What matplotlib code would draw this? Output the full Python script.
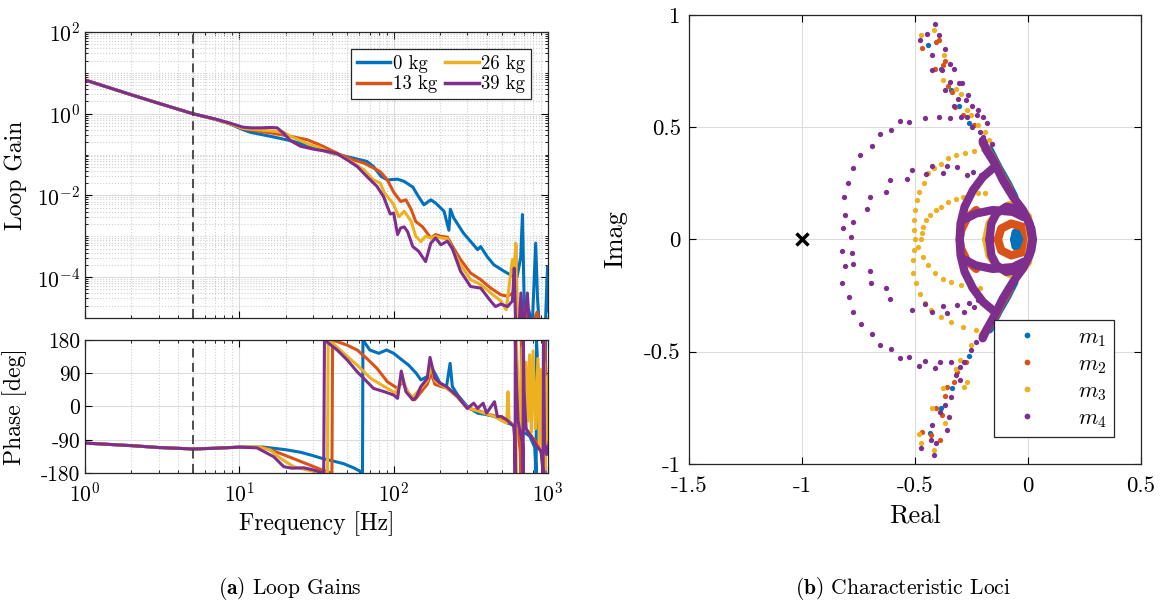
import matplotlib
matplotlib.use("Agg")
import matplotlib.pyplot as plt
from matplotlib.ticker import LogLocator, NullFormatter, FixedLocator

plt.rcParams['font.family'] = 'serif'
plt.rcParams['font.serif'] = ['cmr10', 'DejaVu Serif']
plt.rcParams['mathtext.fontset'] = 'cm'
plt.rcParams['axes.unicode_minus'] = False
plt.rcParams['axes.formatter.use_mathtext'] = True

BLUE = '#0072BD'
ORANGE = '#D95319'
YELLOW = '#EDB120'
PURPLE = '#7E2F8E'
COLORS = [BLUE, ORANGE, YELLOW, PURPLE]

# ---------------- loop gain magnitude ----------------
labels_mass = ['0 kg', '13 kg', '26 kg', '39 kg']

f_0kg = [1, 2, 3, 5, 7, 8.7, 10.5, 11.8, 15.9, 21.4, 28.9, 38.9, 50, 61, 67,
         74, 83, 91, 106, 117, 133, 145, 157, 174, 187, 212, 228, 233, 245,
         283, 350, 366, 403, 446, 518, 588, 630, 665, 683, 705, 750, 790, 832,
         855, 880, 960, 993, 1000]
g_0kg = [6.7, 2.9, 1.8, 1.0, 0.73, 0.56, 0.41, 0.35, 0.28, 0.22, 0.16, 0.11,
         0.089, 0.074, 0.068, 0.051, 0.029, 0.024, 0.025, 0.022, 0.016, 0.0093,
         0.0059, 0.0078, 0.0065, 0.0041, 0.0014, 0.0046, 0.0028, 0.0012,
         4.7e-4, 5.6e-4, 3.2e-4, 2.0e-4, 1.4e-4, 1.07e-4, 1.0e-4, 3e-4, 3.4e-3,
         8e-6, 1.6e-5, 6e-6, 6.8e-4, 3e-5, 6e-6, 6e-6, 1.8e-4, 1.5e-5]

f_13kg = [1, 2, 3, 5, 7, 8.7, 10.5, 11.8, 15.9, 21.4, 27.6, 33.5, 38.9, 45, 55,
          64, 74, 82, 91, 100, 111, 120, 130, 139, 154, 174, 187, 202, 223,
          241, 271, 315, 366, 425, 495, 546, 588, 605, 618, 632, 660, 720, 760,
          850, 900, 1000]
g_13kg = [6.7, 2.9, 1.8, 1.0, 0.73, 0.57, 0.43, 0.40, 0.34, 0.28, 0.23, 0.17,
          0.13, 0.10, 0.074, 0.062, 0.047, 0.038, 0.024, 0.012, 0.0071, 0.0078,
          0.0045, 0.0023, 0.0017, 9.1e-4, 1.1e-3, 1.0e-3, 9.5e-4, 5.6e-4,
          2.7e-4, 1.26e-4, 8.7e-5, 5.4e-5, 3.7e-5, 3.4e-5, 4.0e-5, 4.2e-5,
          6.2e-4, 1.2e-5, 5e-6, 2e-5, 5e-6, 1.4e-5, 5e-6, 8e-6]

f_26kg = [1, 2, 3, 5, 7, 8.7, 10.5, 11.8, 15.9, 19.4, 21.4, 24.9, 28, 33, 38.9,
          45, 52.6, 64, 74, 82, 87, 95, 100, 108, 117, 130, 139, 150, 161, 174,
          187, 202, 223, 241, 271, 315, 366, 425, 495, 535, 560, 588, 605, 618,
          628, 660, 700, 800, 1000]
g_26kg = [6.7, 2.9, 1.8, 1.0, 0.73, 0.57, 0.44, 0.42, 0.38, 0.35, 0.28, 0.22,
          0.18, 0.15, 0.11, 0.095, 0.068, 0.043, 0.024, 0.020, 0.0115, 0.0078,
          0.0059, 0.0030, 0.0041, 0.0023, 0.0010, 7.4e-4, 1.0e-3, 9.1e-4,
          1.0e-3, 9.1e-4, 8.7e-4, 4.7e-4, 2.0e-4, 8.7e-5, 6.6e-5, 4.1e-5,
          2.6e-5, 1.6e-5, 6e-5, 2.7e-4, 1.5e-4, 6.8e-4, 8e-6, 6e-6, 1e-5,
          6e-6, 6e-6]

f_39kg = [1, 2, 3, 5, 7, 8.7, 10.5, 12, 13.7, 15.9, 17.6, 19.4, 21.4, 24.9,
          30.4, 37, 43, 50, 58, 67, 78, 86, 95, 100, 106, 111, 117, 123, 133,
          145, 161, 174, 187, 202, 223, 240, 271, 315, 366, 425, 457, 495, 546,
          588, 604, 618, 650, 668, 690, 735, 760, 1000]
g_39kg = [6.7, 2.9, 1.8, 1.0, 0.74, 0.59, 0.47, 0.45, 0.45, 0.46, 0.45, 0.33,
          0.22, 0.16, 0.135, 0.12, 0.105, 0.074, 0.051, 0.029, 0.0166, 0.0093,
          0.0035, 0.0037, 0.0011, 0.0016, 0.0017, 0.0013, 5.6e-4, 4.3e-4,
          2.4e-4, 6.8e-4, 9.1e-4, 6.2e-4, 7.6e-4, 5e-4, 1.4e-4, 5.9e-5, 5.4e-5,
          2.6e-5, 1.9e-5, 2.2e-5, 1.9e-5, 2.6e-5, 1.66e-4, 5e-6, 6e-6, 4.1e-5,
          5e-6, 4.1e-5, 5e-6, 5e-6]

# ---------------- loop gain phase ----------------
pf_0kg = [1, 2, 3, 5, 7, 10, 14.4, 20, 25, 30, 34, 40, 47.5, 55, 61, 62.8,
          63.2, 70, 80, 90, 100, 110, 125, 140, 150, 165, 180, 200, 220, 232,
          240, 260, 300, 350, 400, 450, 500, 550, 600, 650, 700, 760, 820, 838,
          842, 860, 900, 940, 955, 960, 980, 1000]
p_0kg = [-99, -106, -111, -115, -113, -110, -110, -117, -124, -133, -140, -147,
         -155, -166, -176, -180, 180, 153, 144, 153, 144, 130, 112, 90, 72, 81,
         99, 63, 54, 117, 54, 31, 0, -18, -22, -27, -36, -45, -50, -55, -70,
         -80, -110, -180, 180, 100, -60, -150, -180, 180, -120, 40]

pf_13kg = [1, 2, 3, 5, 7, 10, 14.4, 18.4, 23.7, 30.4, 37, 39.8, 40.2, 50, 58,
           67, 78, 91, 106, 114, 125, 137, 157, 165, 175, 185, 200, 220, 240,
           260, 300, 350, 400, 450, 500, 550, 600, 640, 660, 668, 672, 690,
           720, 780, 850, 920, 945, 950, 1000]
p_13kg = [-99, -106, -111, -115, -113, -110, -111, -127, -145, -163, -177,
          -180, 180, 166, 153, 130, 103, 67, 49, 67, 35, 18, 49, 60, 90, 60,
          55, 50, 38, 25, -5, -10, -20, -25, -35, -40, -50, -70, -120, -180,
          180, 60, -60, -80, -100, -130, -180, 180, -100]

pf_26kg = [1, 2, 3, 5, 7, 10, 13, 15.9, 18.4, 22.5, 27.6, 31.9, 37.2, 37.6,
           38.9, 47.5, 58, 71, 87, 103, 114, 122, 133, 150, 165, 175, 185, 200,
           220, 240, 260, 300, 350, 400, 450, 500, 540, 550, 560, 600, 615,
           620, 622, 640, 660, 680, 700, 720, 740, 760, 780, 800, 830, 860,
           880, 900, 920, 940, 960, 980, 1000]
p_26kg = [-99, -106, -111, -115, -113, -110, -109, -118, -140, -163, -172,
          -177, -180, 180, 177, 144, 112, 76, 54, 36, 76, 40, 25, 50, 70, 110,
          70, 60, 50, 38, 25, -3, -12, -20, -27, -38, -45, 40, -40, -50, -100,
          -180, 180, 60, -60, 160, -20, 120, -40, 140, -70, 150, -60, 130,
          -100, 100, -150, 120, -170, 80, -90]

pf_39kg = [1, 2, 3, 5, 7, 10, 13, 16.7, 19.4, 21.9, 26.2, 30.4, 35.2, 35.6,
           43, 50, 58, 64, 74, 87, 100, 106, 112, 120, 133, 140, 150, 165, 172,
           185, 200, 220, 240, 260, 300, 330, 350, 380, 400, 450, 470, 500,
           540, 600, 608, 612, 614, 625, 640, 660, 685, 690, 692, 700, 720,
           760, 800, 850, 900, 930, 935, 950, 980, 1000]
p_39kg = [-99, -106, -111, -115, -113, -110, -112, -136, -163, -167, -166,
          -172, -180, 180, 153, 126, 94, 76, 49, 40, 31, 22, 96, 40, 18, 25,
          54, 76, 133, 76, 63, 54, 40, 27, -5, 9, -5, 9, -18, 13, -27, -27,
          -36, -54, -90, -180, 180, 60, -40, -70, -100, -180, 180, 40, -60,
          -75, -90, -110, -120, -180, 180, -100, -130, -110]

mag_ticks = [1e-4, 1e-2, 1e0, 1e2]
phase_ticks = [-180, -90, 0, 90, 180]
phase_ticklabels = ['-180', '-90', '0', '90', '180']
freq_ticks = [1, 10, 100, 1000]
f_crossover = 5

# ---------------- characteristic loci (re, im) ----------------
loci_labels = [r'$m_1$', r'$m_2$', r'$m_3$', r'$m_4$']

m1_core = [(-0.06, 0.0), (-0.055, 0.03), (-0.035, 0.042), (-0.015, 0.03),
           (-0.01, 0.0), (-0.015, -0.03), (-0.035, -0.042), (-0.055, -0.03),
           (-0.06, 0.0), (-0.035, 0.0)]
m1_ribbon = [(-0.17, 0.40), (-0.13, 0.32), (-0.09, 0.25), (-0.06, 0.19),
             (-0.06, -0.19), (-0.09, -0.25), (-0.13, -0.32), (-0.17, -0.40)]
m1_dots = [(-0.441, 0.865), (-0.384, 0.761), (-0.339, 0.665), (-0.303, 0.593),
           (-0.26, 0.52), (-0.26, -0.52), (-0.337, -0.663), (-0.385, -0.752),
           (-0.434, -0.863)]

m2_ring = [(-0.133, 0.0), (-0.118, 0.049), (-0.074, 0.071), (-0.022, 0.056),
           (0.0, 0.0), (-0.022, -0.056), (-0.074, -0.071), (-0.118, -0.049),
           (-0.133, 0.0)]
m2_lobe = [(-0.229, 0.131), (-0.270, 0.094), (-0.295, 0.042), (-0.302, 0.0),
           (-0.295, -0.042), (-0.270, -0.094), (-0.229, -0.131)]
m2_ribbon_up = [(-0.20, 0.43), (-0.15, 0.35), (-0.115, 0.28), (-0.08, 0.22)]
m2_ribbon_low = [(-0.08, -0.22), (-0.115, -0.28), (-0.15, -0.35), (-0.20, -0.43)]
m2_dots = [(-0.468, 0.855), (-0.392, 0.890), (-0.408, 0.880), (-0.413, 0.758),
           (-0.376, 0.776), (-0.365, 0.795), (-0.355, 0.682), (-0.335, 0.657),
           (-0.323, 0.588), (-0.287, 0.553), (-0.238, 0.509),
           (-0.276, -0.545), (-0.312, -0.589), (-0.325, -0.634),
           (-0.358, -0.656), (-0.369, -0.696), (-0.407, -0.752),
           (-0.382, -0.782), (-0.467, -0.856), (-0.431, -0.871),
           (-0.390, -0.893)]

m3_ring = [(-0.184, 0.0), (-0.170, 0.071), (-0.133, 0.123), (-0.081, 0.153),
           (-0.037, 0.146), (0.0, 0.101), (0.015, 0.0), (0.0, -0.101),
           (-0.037, -0.146), (-0.081, -0.153), (-0.133, -0.123),
           (-0.170, -0.071), (-0.184, 0.0)]
m3_dots = [(-0.157, 0.424), (-0.198, 0.405), (-0.238, 0.395), (-0.279, 0.386),
           (-0.319, 0.375), (-0.352, 0.365), (-0.384, 0.338), (-0.417, 0.320),
           (-0.441, 0.294), (-0.462, 0.252), (-0.481, 0.212), (-0.493, 0.175),
           (-0.501, 0.131), (-0.506, 0.086), (-0.504, 0.042), (-0.501, 0.0),
           (-0.505, -0.045), (-0.509, -0.092), (-0.509, -0.151),
           (-0.494, -0.196), (-0.479, -0.241), (-0.457, -0.285),
           (-0.428, -0.315), (-0.383, -0.344), (-0.339, -0.367),
           (-0.288, -0.389), (-0.229, -0.404), (-0.184, -0.401),
           (-0.190, 0.208), (-0.222, 0.205), (-0.254, 0.197), (-0.287, 0.190),
           (-0.319, 0.180), (-0.352, 0.168), (-0.384, 0.145), (-0.408, 0.131),
           (-0.433, 0.108), (-0.452, 0.086), (-0.465, 0.056), (-0.468, 0.027),
           (-0.473, 0.0), (-0.487, -0.033), (-0.465, -0.077),
           (-0.442, -0.114), (-0.413, -0.151), (-0.376, -0.174),
           (-0.339, -0.189), (-0.295, -0.203), (-0.258, -0.211),
           (-0.214, -0.214),
           (-0.473, 0.909), (-0.417, 0.935), (-0.371, 0.820), (-0.376, 0.709),
           (-0.319, 0.672), (-0.295, 0.650), (-0.271, 0.576), (-0.254, 0.553),
           (-0.222, 0.509), (-0.190, 0.479), (-0.173, 0.442),
           (-0.252, -0.470), (-0.301, -0.537), (-0.317, -0.579),
           (-0.268, -0.634), (-0.285, -0.656), (-0.374, -0.663),
           (-0.423, -0.752), (-0.366, -0.819), (-0.480, -0.866),
           (-0.472, -0.908), (-0.415, -0.938)]

m4_arc_right = [(-0.20, 0.44), (-0.184, 0.398), (-0.147, 0.339),
                (-0.111, 0.264), (-0.066, 0.190), (-0.022, 0.131),
                (0.007, 0.071), (0.019, 0.0), (0.007, -0.070),
                (-0.022, -0.129), (-0.066, -0.189), (-0.111, -0.263),
                (-0.147, -0.337), (-0.184, -0.404), (-0.20, -0.44)]
m4_arc_left = [(-0.147, 0.324), (-0.199, 0.279), (-0.243, 0.220),
               (-0.280, 0.146), (-0.298, 0.071), (-0.302, 0.0),
               (-0.298, -0.070), (-0.280, -0.144), (-0.243, -0.218),
               (-0.199, -0.278), (-0.147, -0.322)]
m4_eye = [(-0.170, 0.0), (-0.162, 0.071), (-0.140, 0.116), (-0.096, 0.146),
          (-0.052, 0.138), (-0.007, 0.101), (0.015, 0.049), (0.022, 0.0),
          (0.015, -0.048), (-0.007, -0.099), (-0.052, -0.137),
          (-0.096, -0.144), (-0.140, -0.114), (-0.162, -0.070), (-0.170, 0.0)]
m4_lens_up = [(-0.288, 0.086), (-0.229, 0.116), (-0.155, 0.131),
              (-0.066, 0.123), (-0.02, 0.10)]
m4_lens_low = [(-0.288, -0.086), (-0.229, -0.116), (-0.155, -0.131),
               (-0.066, -0.123), (-0.02, -0.10)]
m4_dots = [(-0.295, 0.546), (-0.344, 0.543), (-0.392, 0.546), (-0.457, 0.543),
           (-0.527, 0.524), (-0.566, 0.528), (-0.608, 0.487), (-0.655, 0.469),
           (-0.692, 0.417), (-0.744, 0.377), (-0.773, 0.319), (-0.796, 0.252),
           (-0.814, 0.190), (-0.809, 0.111), (-0.817, 0.049), (-0.822, -0.050),
           (-0.809, -0.12), (-0.821, -0.193), (-0.792, -0.255),
           (-0.772, -0.322), (-0.740, -0.378), (-0.691, -0.419),
           (-0.654, -0.472), (-0.607, -0.488), (-0.564, -0.527),
           (-0.525, -0.525), (-0.483, -0.562), (-0.454, -0.543),
           (-0.411, -0.574), (-0.387, -0.545), (-0.341, -0.545),
           (-0.206, 0.286), (-0.241, 0.300), (-0.271, 0.286), (-0.314, 0.323),
           (-0.358, 0.328), (-0.376, 0.297), (-0.426, 0.326), (-0.452, 0.291),
           (-0.511, 0.309), (-0.533, 0.269), (-0.611, 0.263), (-0.627, 0.212),
           (-0.699, 0.190), (-0.712, 0.135), (-0.776, 0.076), (-0.781, 0.012),
           (-0.78, -0.06), (-0.775, -0.11), (-0.70, -0.14), (-0.694, -0.193),
           (-0.626, -0.214), (-0.610, -0.263), (-0.512, -0.312),
           (-0.455, -0.288), (-0.426, -0.325), (-0.374, -0.295),
           (-0.358, -0.329), (-0.312, -0.292), (-0.285, -0.322),
           (-0.260, -0.285), (-0.239, -0.300), (-0.220, -0.270),
           (-0.477, 0.890), (-0.446, 0.917), (-0.412, 0.958), (-0.395, 0.909),
           (-0.425, 0.823), (-0.368, 0.847), (-0.425, 0.754), (-0.381, 0.754),
           (-0.344, 0.783), (-0.327, 0.761), (-0.344, 0.702), (-0.303, 0.697),
           (-0.290, 0.697), (-0.368, 0.665), (-0.263, 0.645), (-0.311, 0.628),
           (-0.327, 0.593), (-0.276, 0.620), (-0.246, 0.593), (-0.222, 0.576),
           (-0.225, 0.553), (-0.271, 0.546), (-0.198, 0.546), (-0.182, 0.519),
           (-0.246, 0.501), (-0.214, 0.479), (-0.198, 0.457), (-0.157, 0.427),
           (-0.228, -0.455), (-0.252, -0.493), (-0.285, -0.545),
           (-0.301, -0.570), (-0.320, -0.604), (-0.301, -0.626),
           (-0.341, -0.700), (-0.366, -0.737), (-0.390, -0.767),
           (-0.350, -0.789), (-0.423, -0.826), (-0.358, -0.849),
           (-0.407, -0.908), (-0.472, -0.930), (-0.415, -0.960),
           (-0.431, -0.893)]

critical_point = (-1, 0)
real_ticks = [-1.5, -1, -0.5, 0, 0.5]
real_ticklabels = ['-1.5', '-1', '-0.5', '0', '0.5']
imag_ticks = [-1, -0.5, 0, 0.5, 1]
imag_ticklabels = ['-1', '-0.5', '0', '0.5', '1']


def style_axes(ax, size):
    """MATLAB-like box, inward ticks and light grid."""
    ax.tick_params(which='both', direction='in', top=True, right=True,
                   labelsize=size)
    ax.tick_params(which='major', length=5, width=0.8)
    ax.tick_params(which='minor', length=2.5, width=0.6)
    for s in ax.spines.values():
        s.set_linewidth(0.9)
        s.set_color('#262626')
    ax.set_axisbelow(True)


def xy(points):
    return [p[0] for p in points], [p[1] for p in points]


def plot_loop_gains(fig):
    ax_m = fig.add_axes([0.0731, 0.4744, 0.3981, 0.4727])
    ax_p = fig.add_axes([0.0731, 0.2182, 0.3981, 0.2198])
    mags = [(f_0kg, g_0kg), (f_13kg, g_13kg), (f_26kg, g_26kg), (f_39kg, g_39kg)]
    phases = [(pf_0kg, p_0kg), (pf_13kg, p_13kg), (pf_26kg, p_26kg),
              (pf_39kg, p_39kg)]
    for (f, g), c, lab in zip(mags, COLORS, labels_mass):
        ax_m.plot(f, g, color=c, lw=2.2, label=lab, solid_joinstyle='round')
    for (f, p), c in zip(phases, COLORS):
        ax_p.plot(f, p, color=c, lw=2.2, solid_joinstyle='round')

    for ax in (ax_m, ax_p):
        ax.set_xscale('log')
        ax.set_xlim(1, 1000)
        ax.axvline(f_crossover, color='#404040', ls='--', lw=1.3,
                   dashes=(5, 3))
        ax.xaxis.set_minor_locator(LogLocator(base=10, subs=range(2, 10),
                                              numticks=20))
        ax.xaxis.set_minor_formatter(NullFormatter())
        ax.grid(True, which='major', color='#dcdcdc', lw=0.8)
        ax.grid(True, which='minor', axis='x', color='#cfcfcf', ls=':',
                lw=0.8)
        style_axes(ax, 15.5)

    ax_m.set_yscale('log')
    ax_m.set_ylim(1e-5, 1e2)
    ax_m.set_yticks(mag_ticks)
    ax_m.yaxis.set_minor_locator(LogLocator(base=10, subs=range(1, 10),
                                            numticks=30))
    ax_m.yaxis.set_minor_formatter(NullFormatter())
    ax_m.grid(True, which='minor', axis='y', color='#cfcfcf', ls=':', lw=0.8)
    ax_m.set_xticks(freq_ticks)
    ax_m.set_xticklabels([])
    ax_m.set_ylabel('Loop Gain', fontsize=17)
    ax_m.yaxis.set_label_coords(-0.125, 0.5)
    leg = ax_m.legend(ncol=2, loc='upper right', fontsize=13.5, frameon=True,
                      fancybox=False, framealpha=1, edgecolor='#262626',
                      handlelength=1.8, handletextpad=0.15, columnspacing=0.4,
                      borderpad=0.3, labelspacing=0.15, borderaxespad=0.9)
    leg.get_frame().set_linewidth(0.9)
    for line in leg.get_lines():
        line.set_linewidth(2.5)

    ax_p.set_ylim(-180, 180)
    ax_p.set_yticks(phase_ticks)
    ax_p.set_yticklabels(phase_ticklabels)
    ax_p.set_xticks(freq_ticks)
    ax_p.tick_params(axis='x', pad=6)
    ax_p.set_ylabel('Phase [deg]', fontsize=17)
    ax_p.yaxis.set_label_coords(-0.125, 0.5)
    ax_p.set_xlabel('Frequency [Hz]', fontsize=17, labelpad=4)


def plot_loci(fig):
    ax = fig.add_axes([0.5924, 0.2331, 0.3886, 0.7421])
    dense = [
        (BLUE, [m1_ribbon[:4], m1_ribbon[4:], m1_core]),
        (ORANGE, [m2_ribbon_up, m2_ribbon_low, m2_lobe, m2_ring]),
        (YELLOW, [m3_ring]),
        (PURPLE, [m4_arc_right, m4_arc_left, m4_eye, m4_lens_up, m4_lens_low]),
    ]
    dots = [m1_dots, m2_dots, m3_dots, m4_dots]
    for (c, curves), pts, lab in zip(dense, dots, loci_labels):
        for cur in curves:
            x, y = xy(cur)
            ax.plot(x, y, color=c, lw=6, solid_capstyle='round',
                    solid_joinstyle='round')
        x, y = xy(pts)
        ax.plot(x, y, ls='none', marker='o', ms=3.8, mec='none', color=c,
                label=lab)
    ax.plot(*critical_point, marker='x', color='k', ms=8, mew=2.5)

    ax.set_xlim(-1.5, 0.5)
    ax.set_ylim(-1, 1)
    ax.xaxis.set_major_locator(FixedLocator(real_ticks))
    ax.set_xticklabels(real_ticklabels)
    ax.yaxis.set_major_locator(FixedLocator(imag_ticks))
    ax.set_yticklabels(imag_ticklabels)
    ax.grid(True, color='#dcdcdc', lw=0.8)
    style_axes(ax, 16.5)
    ax.tick_params(axis='x', pad=9)
    ax.tick_params(axis='y', pad=6)
    ax.set_xlabel('Real', fontsize=19, labelpad=6)
    ax.set_ylabel('Imag', fontsize=19, labelpad=12)
    leg = ax.legend(loc='lower right', fontsize=16, frameon=True,
                    fancybox=False, framealpha=1, edgecolor='#262626',
                    handlelength=2.2, handletextpad=1.2, borderpad=0.35,
                    labelspacing=0.25, borderaxespad=1.2, markerscale=1.1)
    leg.get_frame().set_linewidth(0.9)


def main():
    fig = plt.figure(figsize=(11.63, 6.05), dpi=100)
    plot_loop_gains(fig)
    plot_loci(fig)
    fig.text(0.249, 0.028, r'$\mathbf{(a)}$ Loop Gains', ha='center',
             va='center', fontsize=15.5)
    fig.text(0.776, 0.028, r'$\mathbf{(b)}$ Characteristic Loci',
             ha='center', va='center', fontsize=15.5)
    fig.savefig('out.png', dpi=100)


if __name__ == "__main__":
    main()
